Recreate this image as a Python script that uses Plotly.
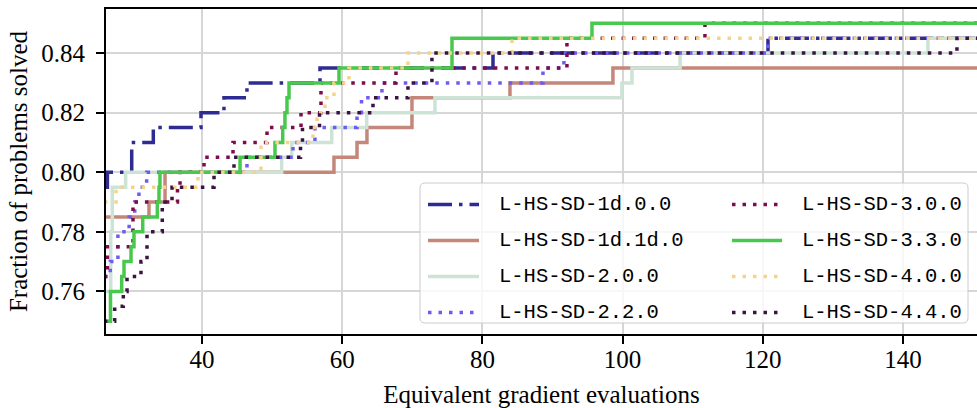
import plotly.graph_objects as go

# ---------------- data (step profiles) ----------------
x_1d_0_0 = [26.0, 26.5, 29.97, 33.05, 39.85, 43.13, 46.41, 56.83, 81.51, 120.74, 152.0]
y_1d_0_0 = [0.795, 0.800, 0.810, 0.815, 0.820, 0.825, 0.830, 0.835, 0.840, 0.845, 0.845]

x_1d_1d_0 = [26.0, 32.43, 34.72, 58.82, 62.11, 63.53, 69.95, 83.93, 98.62, 152.0]
y_1d_1d_0 = [0.785, 0.790, 0.800, 0.805, 0.810, 0.815, 0.825, 0.830, 0.835, 0.835]

x_2_0_0 = [26.0, 26.97, 27.2, 29.1, 51.36, 52.79, 58.5, 63.49, 73.23, 99.9, 101.34, 108.2, 143.56, 152.0]
y_2_0_0 = [0.760, 0.780, 0.795, 0.800, 0.805, 0.810, 0.815, 0.820, 0.825, 0.830, 0.835, 0.840, 0.845, 0.845]

x_2_2_0 = [26.0, 26.9, 28.0, 29.6, 30.4, 31.0, 32.1, 46.41, 52.98, 56.11, 62.11, 62.75, 65.67, 88.64, 91.63, 120.74, 152.0]
y_2_2_0 = [0.765, 0.770, 0.780, 0.785, 0.790, 0.795, 0.800, 0.805, 0.810, 0.815, 0.820, 0.825, 0.830, 0.835, 0.840, 0.845, 0.845]

x_3_0_0 = [26.0, 26.5, 30.15, 36.5, 36.86, 40.28, 44.42, 49.27, 54.12, 56.97, 67.67, 92.06, 111.75, 152.0]
y_3_0_0 = [0.765, 0.775, 0.790, 0.795, 0.800, 0.805, 0.810, 0.815, 0.820, 0.830, 0.835, 0.845, 0.850, 0.850]

x_3_3_0 = [26.0, 26.94, 28.54, 28.87, 29.87, 30.29, 31.54, 33.62, 33.86, 34.0, 45.42, 50.41, 51.51, 51.83, 52.12, 52.41, 59.54, 75.66, 95.63, 152.0]
y_3_3_0 = [0.750, 0.760, 0.765, 0.770, 0.775, 0.780, 0.785, 0.790, 0.795, 0.800, 0.805, 0.810, 0.815, 0.820, 0.825, 0.830, 0.835, 0.845, 0.850, 0.850]

x_4_0_0 = [26.0, 27.73, 39.42, 48.41, 55.83, 56.4, 57.54, 58.82, 60.96, 69.38, 84.22, 152.0]
y_4_0_0 = [0.790, 0.795, 0.800, 0.810, 0.815, 0.820, 0.825, 0.830, 0.835, 0.840, 0.845, 0.845]

x_4_4_0 = [26.0, 27.54, 28.77, 29.3, 31.29, 32.15, 34.33, 35.72, 41.71, 44.56, 54.05, 54.33, 56.76, 64.39, 69.38, 72.8, 147.7, 152.0]
y_4_4_0 = [0.750, 0.755, 0.760, 0.765, 0.770, 0.780, 0.790, 0.795, 0.800, 0.805, 0.810, 0.815, 0.820, 0.825, 0.830, 0.840, 0.845, 0.845]

names = ["L-HS-SD-1d.0.0", "L-HS-SD-1d.1d.0", "L-HS-SD-2.0.0", "L-HS-SD-2.2.0",
         "L-HS-SD-3.0.0", "L-HS-SD-3.3.0", "L-HS-SD-4.0.0", "L-HS-SD-4.4.0"]
xs_all = [x_1d_0_0, x_1d_1d_0, x_2_0_0, x_2_2_0, x_3_0_0, x_3_3_0, x_4_0_0, x_4_4_0]
ys_all = [y_1d_0_0, y_1d_1d_0, y_2_0_0, y_2_2_0, y_3_0_0, y_3_3_0, y_4_0_0, y_4_4_0]

x_ticks = [40, 60, 80, 100, 120, 140]
y_ticks = [0.76, 0.78, 0.80, 0.82, 0.84]

# ---------------- styles ----------------
DOT = "3.5px,7px"
DASHDOT = "24px,7px,3.5px,7px"
styles = [
    ("#2e2b92", DASHDOT),
    ("#c4877a", "solid"),
    ("#cde3d6", "solid"),
    ("#6e5cf2", DOT),
    ("#7e0c4c", DOT),
    ("#48c84c", "solid"),
    ("#f5d38a", DOT),
    ("#3b1340", DOT),
]
LW = 3.5

W, H = 977, 408
L, R, T, B = 106, 0, 9, 74
X_RANGE = [26.3, 150.56]
Y_RANGE = [0.7457, 0.8548]

SERIF = "Liberation Serif"
MONO = "Liberation Mono"

fig = go.Figure()
for name, xs, ys, (col, dash) in zip(names, xs_all, ys_all, styles):
    fig.add_trace(go.Scatter(
        x=xs, y=ys, mode="lines", name=name, showlegend=False,
        line=dict(color=col, width=LW, dash=dash, shape="hv"),
        hoverinfo="skip"))


def px_x(px):
    return (px - L) / (W - L - R)


def px_y(py):
    return (H - B - py) / (H - T - B)


# ---------------- legend (drawn manually, two columns) ----------------
bx0, bx1, by0, by1, rr = 420, 968, 183, 323, 5
path = (f"M {px_x(bx0+rr)},{px_y(by0)} L {px_x(bx1-rr)},{px_y(by0)} "
        f"Q {px_x(bx1)},{px_y(by0)} {px_x(bx1)},{px_y(by0+rr)} "
        f"L {px_x(bx1)},{px_y(by1-rr)} Q {px_x(bx1)},{px_y(by1)} {px_x(bx1-rr)},{px_y(by1)} "
        f"L {px_x(bx0+rr)},{px_y(by1)} Q {px_x(bx0)},{px_y(by1)} {px_x(bx0)},{px_y(by1-rr)} "
        f"L {px_x(bx0)},{px_y(by0+rr)} Q {px_x(bx0)},{px_y(by0)} {px_x(bx0+rr)},{px_y(by0)} Z")
shapes = [dict(type="path", path=path, xref="paper", yref="paper",
               line=dict(color="#cccccc", width=1),
               fillcolor="rgba(255,255,255,0.8)", layer="above")]
annotations = []
row_y = [204.5, 240.5, 276.5, 312.5]
cols = [(428, 479, 497), (732, 782, 800)]
for i, name in enumerate(names):
    c = i // 4
    r = i % 4
    hx0, hx1, tx = cols[c]
    col, dash = styles[i]
    shapes.append(dict(type="line", xref="paper", yref="paper",
                       x0=px_x(hx0), x1=px_x(hx1), y0=px_y(row_y[r]), y1=px_y(row_y[r]),
                       line=dict(color=col, width=LW, dash=dash), layer="above"))
    annotations.append(dict(text=name, xref="paper", yref="paper",
                            x=px_x(tx), y=px_y(row_y[r]), xanchor="left", yanchor="middle",
                            showarrow=False, font=dict(family=MONO, size=20.5, color="black")))

axis_common = dict(
    showline=True, linecolor="black", linewidth=2,
    showgrid=True, gridcolor="#d6d6d6", gridwidth=1.5,
    ticks="outside", ticklen=8, tickwidth=1.5, tickcolor="black",
    tickfont=dict(family=SERIF, size=25, color="black"),
    zeroline=False,
)

fig.update_layout(
    width=W, height=H,
    margin=dict(l=L, r=R, t=T, b=B, pad=0),
    plot_bgcolor="white", paper_bgcolor="white",
    showlegend=False,
    shapes=shapes,
    annotations=annotations,
    xaxis=dict(range=X_RANGE, tickvals=x_ticks, ticktext=[str(v) for v in x_ticks],
               mirror=True, ticklabelstandoff=-6,
               title=dict(text="Equivalent gradient evaluations",
                          font=dict(family=SERIF, size=25, color="black"), standoff=14),
               **axis_common),
    yaxis=dict(range=Y_RANGE, tickvals=y_ticks, ticktext=[f"{v:.2f}" for v in y_ticks],
               ticklabelstandoff=6,
               title=dict(text="Fraction of problems solved",
                          font=dict(family=SERIF, size=25, color="black"), standoff=7),
               **axis_common),
)

fig.write_html("out.html")
